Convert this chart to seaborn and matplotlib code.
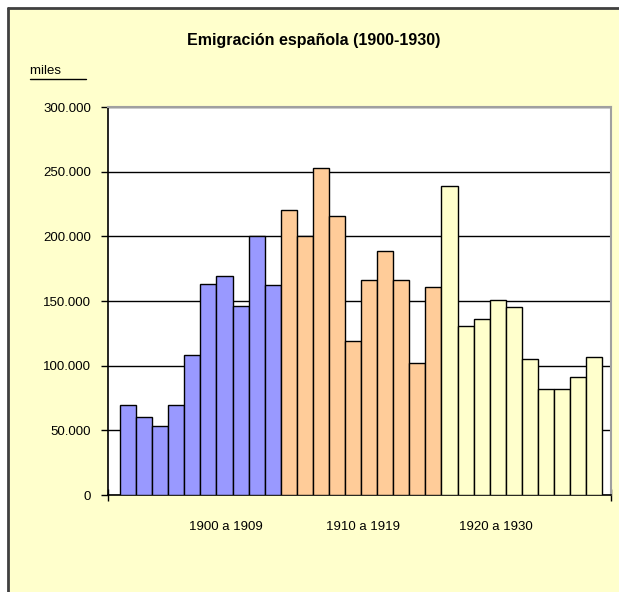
"""Emigración española 1900-1930: bar chart recreated with seaborn."""
import matplotlib
matplotlib.use("Agg")
import matplotlib.pyplot as plt
import matplotlib.ticker as mticker
from matplotlib.patches import Rectangle
from matplotlib.lines import Line2D
import pandas as pd
import seaborn as sns

# data (persons)
years = list(range(1900, 1930))
periods = ["1900 a 1909", "1910 a 1919", "1920 a 1930"]
emig_1900s = [69500, 60500, 53000, 69500, 108000, 163500, 169500, 146500, 200000, 162000]
emig_1910s = [220500, 200500, 253000, 216000, 119000, 166500, 188500, 166500, 102000, 161000]
emig_1920s = [239000, 131000, 136000, 151000, 145000, 105000, 82000, 82000, 91000, 106500]
period_colors = ["#9999FF", "#FFCC99", "#FFFFCC"]
y_ticks = [0, 50000, 100000, 150000, 200000, 250000, 300000]

df = pd.DataFrame({
    "year": [str(y) for y in years],
    "value": emig_1900s + emig_1910s + emig_1920s,
    "period": [periods[0]] * 10 + [periods[1]] * 10 + [periods[2]] * 10,
})

sns.set_style("white")
plt.rcParams["font.family"] = ["Liberation Sans", "DejaVu Sans"]
plt.rcParams["text.color"] = "black"
plt.rcParams["ytick.color"] = "black"
plt.rcParams["xtick.color"] = "black"

W, H = 619, 592
fig = plt.figure(figsize=(W / 100, H / 100), dpi=100)
fig.patch.set_facecolor("white")

# chart area (yellow) with its frame cut off at right and bottom
fig.patches.append(Rectangle((8 / W, 0), 1, 1 - 8 / H, transform=fig.transFigure,
                             facecolor="#FFFFCC", edgecolor="none", zorder=-10))
fig.lines.append(Line2D([8 / W, 1], [1 - 8 / H, 1 - 8 / H], transform=fig.transFigure,
                        color="#404040", lw=2, zorder=-9))
fig.lines.append(Line2D([8 / W, 8 / W], [0, 1 - 8 / H], transform=fig.transFigure,
                        color="#404040", lw=2, zorder=-9))

left, right, top, bottom = 108, 611, 107, 495
ax = fig.add_axes([left / W, 1 - bottom / H, (right - left) / W, (bottom - top) / H])
ax.set_facecolor("white")

sns.barplot(data=df, x="year", y="value", hue="period", palette=period_colors,
            saturation=1, dodge=False, width=1.0, edgecolor="black", linewidth=1.0,
            legend=False, ax=ax, zorder=3)

x0, x1 = -1.25, 30.05
ax.set_ylim(0, 300000)
ax.set_xlim(x0, x1)
ax.set_yticks(y_ticks)
ax.yaxis.set_major_formatter(mticker.FuncFormatter(lambda v, p: f"{int(v):,}".replace(",", ".")))
ax.yaxis.grid(True, color="black", lw=1.0, zorder=0)
ax.set_axisbelow(True)
ax.tick_params(axis="y", direction="out", length=5, width=1, color="black",
               labelsize=9.5, pad=7, left=True)
ax.set_xticks([x0, x1])
ax.set_xticklabels(["", ""])
ax.tick_params(axis="x", direction="inout", length=8, width=1, color="black", bottom=True)
ax.set_xlabel("")
ax.set_ylabel("")

for s in ["left", "bottom"]:
    ax.spines[s].set_color("black")
    ax.spines[s].set_linewidth(1.2)
for s in ["top", "right"]:
    ax.spines[s].set_color("#A0A0A0")
    ax.spines[s].set_linewidth(1.5)

# period labels under the bars
for xpos, lab in zip([6.1, 14.6, 22.9], periods):
    ax.text(xpos, -24500, lab, ha="center", va="center", fontsize=9.5, clip_on=False)

fig.text(314 / W, 1 - 41 / H, "Emigración española (1900-1930)", ha="center", va="center",
         fontsize=11.5, fontweight="bold")
fig.text(30 / W, 1 - 71 / H, "miles ", ha="left", va="center", fontsize=9.5)
fig.lines.append(Line2D([30 / W, 86 / W], [1 - 79 / H, 1 - 79 / H], transform=fig.transFigure,
                        color="black", lw=1))

fig.savefig("out.png", dpi=100, facecolor=fig.get_facecolor())
